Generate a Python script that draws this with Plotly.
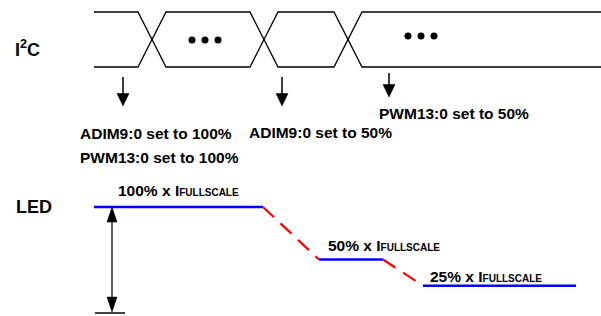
import plotly.graph_objects as go

# ---------------- data ----------------
# I2C bus (time axis in diagram units)
bus_start = 94
bus_end = 601
bus_transitions = [152, 264, 348]
bus_dots_centers = [205, 421]

# write events on the bus
event_times = [123, 282, 389]
event_labels = [
    ["ADIM9:0 set to 100%", "PWM13:0 set to 100%"],
    ["ADIM9:0 set to 50%"],
    ["PWM13:0 set to 50%"],
]

# LED current levels (% of full scale)
led_levels = [100, 50, 25]
led_starts = [94, 319, 423]
led_ends = [263, 383, 576]
led_labels = ["100% x I", "50% x I", "25% x I"]
led_sub = "FULLSCALE"

# ---------------- styling constants ----------------
W, H = 601, 316
BUS_TOP, BUS_BOT = 12, 67
HALF = 14
FONT = "Liberation Sans, Arial, sans-serif"
BLACK = "#000000"
# LED axis: level 0 at pixel 312, 1.05 px per %
PX0, K = 312, 1.05
y2_range = [(PX0 - H) / K, PX0 / K]

fig = go.Figure()

# ---- bus: two zig-zag polylines forming X transitions ----
pa_x, pa_y, pb_x, pb_y = [bus_start], [BUS_TOP], [bus_start], [BUS_BOT]
a_top = True
for t in bus_transitions:
    pa_x += [t - HALF, t + HALF]
    pb_x += [t - HALF, t + HALF]
    if a_top:
        pa_y += [BUS_TOP, BUS_BOT]
        pb_y += [BUS_BOT, BUS_TOP]
    else:
        pa_y += [BUS_BOT, BUS_TOP]
        pb_y += [BUS_TOP, BUS_BOT]
    a_top = not a_top
pa_x.append(bus_end); pa_y.append(pa_y[-1])
pb_x.append(bus_end); pb_y.append(pb_y[-1])
for xs, ys in ((pa_x, pa_y), (pb_x, pb_y)):
    fig.add_trace(go.Scatter(x=xs, y=ys, mode="lines",
                             line=dict(color=BLACK, width=1.3),
                             hoverinfo="skip", showlegend=False))

# dots
dx, dy = [], []
for i, c in enumerate(bus_dots_centers):
    yy = 40 if i == 0 else 36
    for o in (-13, 0, 13):
        dx.append(c + o); dy.append(yy)
fig.add_trace(go.Scatter(x=dx, y=dy, mode="markers",
                         marker=dict(color=BLACK, size=7),
                         hoverinfo="skip", showlegend=False))


def tri(x, ytip, w, h, down=True):
    s = 1 if down else -1
    return [x - w / 2, x + w / 2, x, x - w / 2], [ytip - s * h, ytip - s * h, ytip, ytip - s * h]


# event arrows
arrow_tops = [77, 77, 73]
arrow_tips = [106, 106, 97]
for t, y0, y1 in zip(event_times, arrow_tops, arrow_tips):
    fig.add_trace(go.Scatter(x=[t, t], y=[y0, y1 - 10], mode="lines",
                             line=dict(color=BLACK, width=1.5),
                             hoverinfo="skip", showlegend=False))
    tx, ty = tri(t, y1, 12, 12.5)
    fig.add_trace(go.Scatter(x=tx, y=ty, mode="lines", fill="toself",
                             fillcolor=BLACK, line=dict(color=BLACK, width=0.5),
                             hoverinfo="skip", showlegend=False))

# ---- LED levels ----
for i, (s, e, lv) in enumerate(zip(led_starts, led_ends, led_levels)):
    fig.add_trace(go.Scatter(x=[s, e], y=[lv, lv], yaxis="y2", mode="lines",
                             line=dict(color="#0000ff", width=2.5),
                             hoverinfo="skip", showlegend=False))
    if i + 1 < len(led_levels):
        fig.add_trace(go.Scatter(x=[e, led_starts[i + 1]], y=[lv, led_levels[i + 1]],
                                 yaxis="y2", mode="lines",
                                 line=dict(color="#ff0000", width=2.2, dash="15px,9px"),
                                 hoverinfo="skip", showlegend=False))

# double arrow (0 .. 100 %)
GRAY = "#333333"
ax_x = 112
fig.add_trace(go.Scatter(x=[ax_x, ax_x], y=[0 + 14 / K, led_levels[0] - 14 / K], yaxis="y2",
                         mode="lines", line=dict(color=GRAY, width=1.5),
                         hoverinfo="skip", showlegend=False))
for tip, up in ((led_levels[0], True), (0, False)):
    tx, ty = tri(ax_x, tip, 10, 15 / K, down=up)
    fig.add_trace(go.Scatter(x=tx, y=ty, yaxis="y2", mode="lines", fill="toself",
                             fillcolor=BLACK, line=dict(color=BLACK, width=0.5),
                             hoverinfo="skip", showlegend=False))
fig.add_trace(go.Scatter(x=[95, 125], y=[0 - 1 / K, 0 - 1 / K], yaxis="y2", mode="lines",
                         line=dict(color="#444444", width=2),
                         hoverinfo="skip", showlegend=False))

# ---------------- text ----------------
ann = []


def txt(x, y, s, size=15.5, xanchor="left"):
    ann.append(dict(x=x, y=y, xref="x", yref="y", text=s, showarrow=False,
                    xanchor=xanchor, yanchor="middle",
                    font=dict(family=FONT, size=size, color=BLACK)))


txt(13, 48, "<b>I<sup>2</sup>C</b>", size=18)
txt(14, 207, "<b>LED</b>", size=18)

event_xy = [(78, 133), (247, 132.5), (377, 113)]
for (x, y), lines in zip(event_xy, event_labels):
    for j, line in enumerate(lines):
        txt(x, y + 24 * j, "<b>" + line + "</b>")

led_xy = [(116, 190), (326, 245), (428, 276)]
for (x, y), lab in zip(led_xy, led_labels):
    txt(x, y, "<b>" + lab + "<span style='font-size:10px'>" + led_sub + "</span></b>")

fig.update_layout(
    width=W, height=H,
    margin=dict(l=0, r=0, t=0, b=0),
    paper_bgcolor="white", plot_bgcolor="white",
    xaxis=dict(range=[0, W], visible=False, fixedrange=True),
    yaxis=dict(range=[H, 0], visible=False, fixedrange=True),
    yaxis2=dict(range=y2_range, overlaying="y", visible=False, fixedrange=True),
    annotations=ann,
    showlegend=False,
)

fig.write_html("out.html", config={"displayModeBar": False},
               post_script="document.body.style.margin='0';document.body.style.overflow='hidden';")
